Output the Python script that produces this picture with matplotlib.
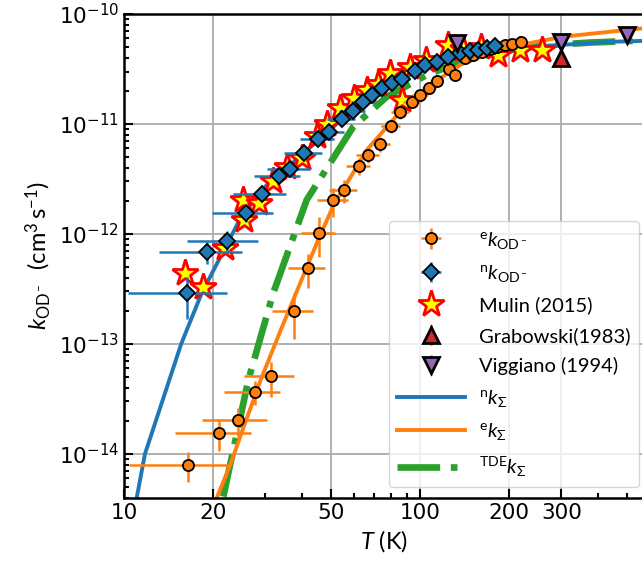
import numpy as np
import matplotlib
matplotlib.use('Agg')
import matplotlib.pyplot as plt
from matplotlib.ticker import FixedLocator, FixedFormatter, LogLocator, NullFormatter

plt.rcParams['font.family'] = ['Lato', 'DejaVu Sans']
plt.rcParams['mathtext.fontset'] = 'custom'
plt.rcParams['mathtext.rm'] = 'Lato'
plt.rcParams['mathtext.it'] = 'Lato:italic'
plt.rcParams['mathtext.bf'] = 'Lato:bold'

# electronic-state rate coefficients (circles)
T_e = [16.4, 20.9, 24.3, 27.7, 31.4, 37.5, 41.7, 45.6, 51.0, 55.2, 62.0, 66.9, 73.3,
       79.8, 85.6, 93.6, 100.2, 107.3, 113.9, 124.8, 131.3, 141.9, 151, 162, 172,
       182, 194, 205, 219]
k_e = [8.0e-15, 1.56e-14, 2.03e-14, 3.68e-14, 5.1e-14, 2.0e-13, 4.9e-13, 1.02e-12,
       2.02e-12, 2.50e-12, 4.17e-12, 5.2e-12, 6.58e-12, 9.6e-12, 1.29e-11, 1.60e-11,
       1.82e-11, 2.13e-11, 2.47e-11, 3.15e-11, 2.79e-11, 3.98e-11, 4.24e-11, 4.51e-11,
       4.81e-11, 5.01e-11, 5.18e-11, 5.34e-11, 5.51e-11]
yerr_e = [2.5e-15, 5e-15, 6e-15, 9e-15, 1.8e-14, 9e-14, 1.7e-13, 4e-13, 6e-13, 6e-13,
          7e-13, 8e-13, 1.0e-12, 1.4e-12, 1.8e-12, 2.1e-12, 2.4e-12, 2.7e-12, 3.0e-12,
          3.8e-12, 3.4e-12, 4.6e-12, 4.9e-12, 5.2e-12, 5.5e-12, 5.7e-12, 5.9e-12,
          6.1e-12, 6.3e-12]
xerr_e = 6.0

# nuclear-spin rate coefficients (diamonds)
T_n = [16.3, 19.1, 22.3, 25.8, 29.3, 33.4, 36.4, 40.6, 45.3, 49.3, 54.4, 59.2, 64.3,
       68.7, 74.2, 80.3, 86.7, 96.2, 104, 114, 124.6, 136.5, 147.5, 157.4, 168, 179]
k_n = [2.9e-13, 6.9e-13, 8.7e-13, 1.54e-12, 2.3e-12, 3.4e-12, 3.9e-12, 5.4e-12, 7.3e-12,
       8.5e-12, 1.11e-11, 1.32e-11, 1.60e-11, 1.84e-11, 2.11e-11, 2.35e-11, 2.55e-11,
       3.05e-11, 3.44e-11, 3.68e-11, 4.09e-11, 4.4e-11, 4.64e-11, 4.75e-11, 4.95e-11,
       5.15e-11]
yerr_n = [1.2e-13, 1.6e-13, 2.0e-13, 2.5e-13, 3.0e-13, 4.0e-13, 4.5e-13, 6e-13, 8e-13,
          9e-13, 1.2e-12, 1.4e-12, 1.7e-12, 1.9e-12, 2.2e-12, 2.4e-12, 2.6e-12, 3.1e-12,
          3.5e-12, 3.7e-12, 4.1e-12, 4.4e-12, 4.6e-12, 4.8e-12, 5.0e-12, 5.2e-12]
xerr_n = 6.0

# Mulin (2015)
T_m = [16.1, 18.5, 21.9, 25.3, 25.5, 28.6, 31.9, 35.5, 39.8, 44.7, 48.5, 53.7, 59.6,
       66.0, 72.0, 79.0, 86.7, 92.6, 105, 124.6, 140, 160, 183, 218, 258]
k_m = [4.4e-13, 3.3e-13, 7.4e-13, 2.04e-12, 1.34e-12, 1.9e-12, 3.0e-12, 4.1e-12, 4.9e-12,
       7.7e-12, 1.0e-11, 1.39e-11, 1.71e-11, 2.04e-11, 2.3e-11, 2.9e-11, 1.66e-11,
       3.3e-11, 3.8e-11, 5.2e-11, 4.8e-11, 5.0e-11, 4.2e-11, 4.7e-11, 4.7e-11]

# Grabowski (1983), Viggiano (1994)
T_g = [300]
k_g = [4.0e-11]
yerr_g = [3e-12]
T_v = [133, 300, 500]
k_v = [5.4e-11, 5.6e-11, 6.45e-11]
yerr_v = [5e-12, 5e-12, 6e-12]

# model curves
T_nsum = [11.04, 11.77, 15.6, 18.3, 21.8, 25.1, 30, 40, 50, 60, 75, 100, 150, 240, 450, 575]
k_nsum = [4.0e-15, 1.0e-14, 1.0e-13, 2.9e-13, 7.2e-13, 1.5e-12, 2.7e-12, 5.3e-12, 9.0e-12,
          1.4e-11, 2.1e-11, 3.1e-11, 4.4e-11, 5.05e-11, 5.6e-11, 5.7e-11]
T_esum = [20.66, 22.94, 25.43, 28.96, 33.84, 36.0, 45.0, 50.9, 66.06, 85.6, 108.1, 136.5,
          172.4, 217.7, 304.1, 575]
k_esum = [4.1e-15, 8.2e-15, 1.8e-14, 4.71e-14, 1.34e-13, 2.0e-13, 8.5e-13, 1.8e-12, 5.8e-12,
          1.29e-11, 2.26e-11, 3.44e-11, 4.42e-11, 5.23e-11, 6.22e-11, 7.45e-11]
T_tde = [21.65, 26.3, 31.9, 41.4, 59.5, 77.2, 105.3, 143, 197, 254, 375, 575]
k_tde = [4.1e-15, 4.7e-14, 2.89e-13, 2.04e-12, 9.45e-12, 1.77e-11, 2.79e-11, 3.82e-11,
         4.64e-11, 5.15e-11, 5.5e-11, 5.75e-11]

xticks = [10, 20, 50, 100, 200, 300]
xminor = [30, 40, 60, 70, 80, 90, 400, 500]

fig = plt.figure(figsize=(6.42, 5.69), dpi=100)
ax = fig.add_axes([124/642, 1-497.7/569, (645-124)/642, (497.7-14)/569])

l_n, = ax.plot(T_nsum, k_nsum, color='#1f77b4', lw=2.8, zorder=2.2, label=r'$^{\rm n}k_{\Sigma}$')
l_e, = ax.plot(T_esum, k_esum, color='#ff7f0e', lw=2.8, zorder=2.2, label=r'$^{\rm e}k_{\Sigma}$')
l_t, = ax.plot(T_tde, k_tde, color='#2ca02c', lw=4.8, ls='-.', zorder=2.1,
               label=r'$^{\rm TDE}k_{\Sigma}$')

h_m, = ax.plot(T_m, k_m, ls='none', marker='*', ms=20, mfc='yellow', mec='red', mew=2,
               zorder=3, label='Mulin (2015)')
h_e = ax.errorbar(T_e, k_e, xerr=xerr_e, yerr=yerr_e, fmt='o', ms=8, mfc='#ff7f0e', mec='k',
                  mew=1.3, ecolor='#ff7f0e', elinewidth=1.8, capsize=0, zorder=4,
                  label=r'$^{\rm e}k_{\rm OD^-}$')
h_n = ax.errorbar(T_n, k_n, xerr=xerr_n, yerr=yerr_n, fmt='D', ms=8, mfc='#1f77b4', mec='k',
                  mew=1.3, ecolor='#1f77b4', elinewidth=1.8, capsize=0, zorder=5,
                  label=r'$^{\rm n}k_{\rm OD^-}$')
h_g = ax.errorbar(T_g, k_g, yerr=yerr_g, fmt='^', ms=12, mfc='#d62728', mec='k', mew=2,
                  ecolor='#d62728', elinewidth=1.8, capsize=0, zorder=6, label='Grabowski(1983)')
h_v = ax.errorbar(T_v, k_v, yerr=yerr_v, fmt='v', ms=12, mfc='#9467bd', mec='k', mew=2,
                  ecolor='#9467bd', elinewidth=1.8, capsize=0, zorder=7, label='Viggiano (1994)')

ax.set_xscale('log')
ax.set_yscale('log')
ax.set_xlim(10, 575)
ax.set_ylim(4e-15, 1e-10)

ax.xaxis.set_major_locator(FixedLocator(xticks))
ax.xaxis.set_major_formatter(FixedFormatter([str(t) for t in xticks]))
ax.xaxis.set_minor_locator(FixedLocator(xminor))
ax.xaxis.set_minor_formatter(NullFormatter())
ax.yaxis.set_minor_locator(LogLocator(base=10, subs=np.arange(2, 10)))
ax.yaxis.set_minor_formatter(NullFormatter())

ax.grid(True, which='major', color='#b0b0b0', lw=1.4)
ax.tick_params(which='both', direction='in', width=1.5)
ax.tick_params(which='major', length=6.5, labelsize=15.5)
ax.tick_params(which='minor', length=3.8)
for lab in ax.get_xticklabels() + ax.get_yticklabels():
    lab.set_fontfamily('DejaVu Sans')
for s in ax.spines.values():
    s.set_linewidth(1.8)

ax.set_xlabel(r'$T$ (K)', fontsize=17)
ax.set_ylabel(r'$k_{\rm OD^-}$  (cm$^3\,$s$^{-1}$)', fontsize=17)

ax.legend(handles=[h_e, h_n, h_m, h_g, h_v, l_n, l_e, l_t], loc='lower right',
          bbox_to_anchor=(0.9885, 0.022), borderaxespad=0,
          fontsize=14.5, handlelength=3.4, handletextpad=0.7, labelspacing=0.62)

fig.savefig('out.png', dpi=100)
